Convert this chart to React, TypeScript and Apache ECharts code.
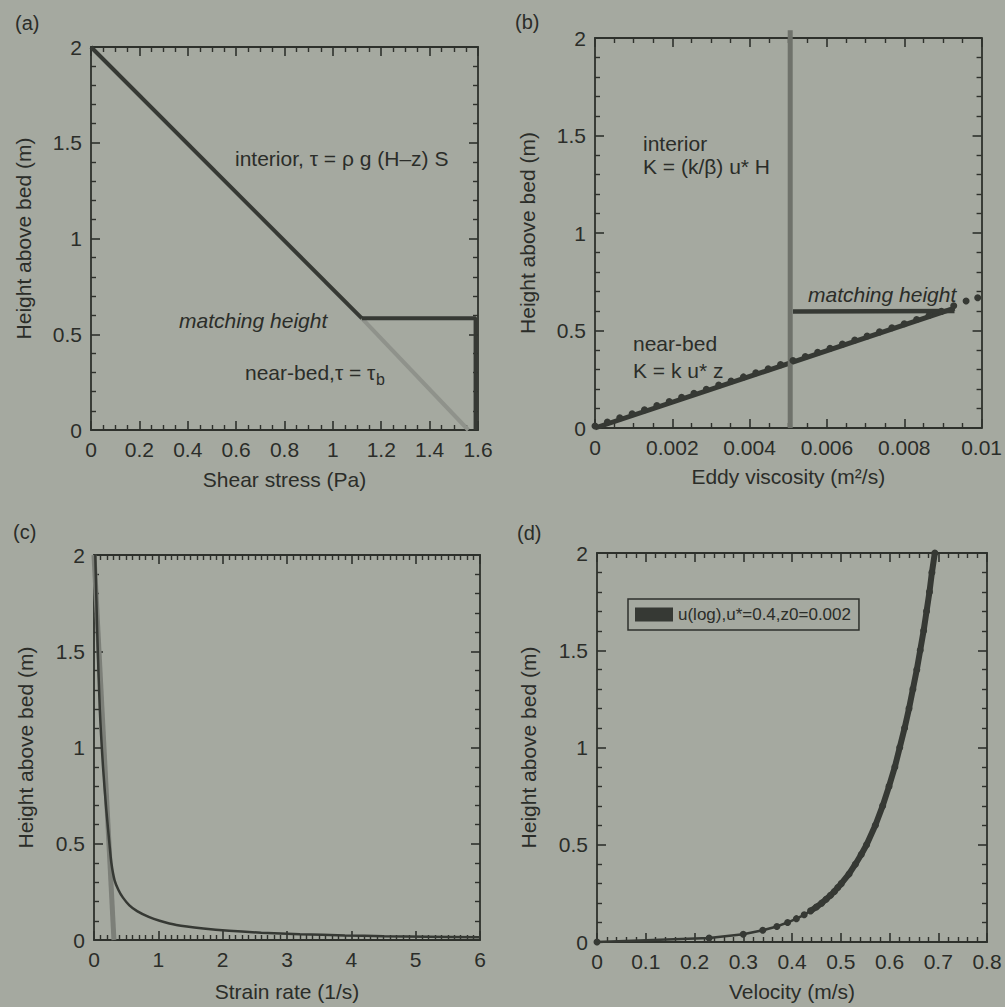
import React, { useEffect, useRef } from 'react';
import * as echarts from 'echarts';

const FONT = '"Liberation Sans", Arial, Helvetica, sans-serif';
const BG = '#a5a9a0';
const DARK = '#363934';
const AXIS = '#2e312c';
const TEXT = '#2b2d29';
const GRAYLINE = '#6f726b';
const LIGHTLINE = '#8f928b';

// (a) Shear stress
const shearUpperX = [0, 1.12];
const shearUpperZ = [2, 0.583];
const shearLowerX = [1.12, 1.56];
const shearLowerZ = [0.583, 0];
const shearNearBedX = [1.12, 1.59, 1.59];
const shearNearBedZ = [0.583, 0.583, 0];

// (b) Eddy viscosity
const eddyInteriorK = [0.00505, 0.00505];
const eddyInteriorZ = [0, 2.04];
const eddyMatchK = [0.00512, 0.0093];
const eddyMatchZ = [0.597, 0.6];
const eddyNearBedK = [0, 0.0093];
const eddyNearBedZ = [0, 0.615];
const eddyDotsK = [0, 0.00032, 0.00064, 0.00096, 0.00128, 0.0016, 0.00192, 0.00224, 0.00256, 0.00288, 0.0032, 0.00352, 0.00384, 0.00416, 0.00448, 0.0048, 0.00512, 0.00544, 0.00576, 0.00608, 0.0064, 0.00672, 0.00704, 0.00736, 0.00768, 0.008, 0.00832, 0.00864, 0.00896, 0.00928, 0.0096, 0.0099];
const eddyDotsZ = [0.01, 0.031, 0.052, 0.073, 0.094, 0.115, 0.136, 0.157, 0.178, 0.199, 0.22, 0.241, 0.262, 0.283, 0.304, 0.325, 0.346, 0.367, 0.388, 0.409, 0.43, 0.451, 0.472, 0.493, 0.514, 0.535, 0.556, 0.577, 0.598, 0.627, 0.651, 0.668];

// (c) Strain rate
const strainInteriorX = [0, 0.31];
const strainInteriorZ = [2, 0];
const strainRate = [0.02, 0.05, 0.09, 0.14, 0.19, 0.24, 0.27, 0.32, 0.38, 0.45, 0.55, 0.67, 0.85, 1.02, 1.28, 1.7, 2.1, 2.6, 3.2, 3.9, 4.5, 5.2, 6.0];
const strainZ = [2.0, 1.6, 1.2, 0.9, 0.68, 0.5, 0.4, 0.31, 0.26, 0.22, 0.18, 0.15, 0.12, 0.1, 0.078, 0.06, 0.048, 0.038, 0.03, 0.024, 0.02, 0.017, 0.014];

// (d) Velocity
const velZ = [0, 0.02, 0.04, 0.06, 0.08, 0.1, 0.12, 0.14, 0.16, 0.18, 0.2, 0.22, 0.24, 0.26, 0.28, 0.3, 0.35, 0.4, 0.45, 0.5, 0.6, 0.7, 0.8, 0.9, 1.0, 1.1, 1.2, 1.3, 1.4, 1.5, 1.6, 1.7, 1.8, 1.9, 2.0];
const velU = [0, 0.23, 0.3, 0.34, 0.369, 0.391, 0.409, 0.425, 0.438, 0.45, 0.461, 0.47, 0.479, 0.487, 0.494, 0.501, 0.517, 0.53, 0.542, 0.553, 0.571, 0.586, 0.599, 0.611, 0.621, 0.631, 0.64, 0.648, 0.656, 0.663, 0.67, 0.676, 0.682, 0.687, 0.693];
const velLegend = 'u(log),u*=0.4,z0=0.002';

const zip = (xs: number[], ys: number[]) => xs.map((x, i) => [x, ys[i]]);

const grids = [
  { left: 91, top: 47, width: 387, height: 383 },
  { left: 595, top: 38, width: 392, height: 390 },
  { left: 94, top: 555, width: 386, height: 385 },
  { left: 597, top: 553, width: 390, height: 389 },
];

function axis(
  gridIndex: number,
  position: string,
  min: number,
  max: number,
  interval: number,
  minorN: number,
  labels: boolean,
  name = '',
  nameGap = 0
) {
  return {
    type: 'value',
    gridIndex,
    position,
    min,
    max,
    interval,
    name,
    nameLocation: 'middle',
    nameGap,
    nameTextStyle: { fontSize: 21, fontFamily: FONT, color: TEXT },
    axisLine: { show: true, onZero: false, lineStyle: { color: AXIS, width: 1.8 } },
    axisTick: { show: true, inside: true, length: 9, lineStyle: { color: AXIS, width: 1.6 } },
    minorTick: { show: true, splitNumber: minorN, length: 5, lineStyle: { color: AXIS, width: 1.4 } },
    splitLine: { show: false },
    minorSplitLine: { show: false },
    axisLabel: { show: labels, color: TEXT, fontSize: 21, fontFamily: FONT, margin: 9 },
  };
}

const yName = 'Height above bed (m)';

const xAxes = [
  axis(0, 'bottom', 0, 1.6, 0.2, 4, true, 'Shear stress (Pa)', 39),
  axis(0, 'top', 0, 1.6, 0.2, 4, false),
  axis(1, 'bottom', 0, 0.01, 0.002, 4, true, 'Eddy viscosity (m²/s)', 38),
  axis(1, 'top', 0, 0.01, 0.002, 4, false),
  axis(2, 'bottom', 0, 6, 1, 10, true, 'Strain rate (1/s)', 41),
  axis(2, 'top', 0, 6, 1, 10, false),
  axis(3, 'bottom', 0, 0.8, 0.1, 5, true, 'Velocity (m/s)', 39),
  axis(3, 'top', 0, 0.8, 0.1, 5, false),
];
const yAxes = [
  axis(0, 'left', 0, 2, 0.5, 5, true, yName, 57),
  axis(0, 'right', 0, 2, 0.5, 5, false),
  axis(1, 'left', 0, 2, 0.5, 5, true, yName, 57),
  axis(1, 'right', 0, 2, 0.5, 5, false),
  axis(2, 'left', 0, 2, 0.5, 5, true, yName, 58),
  axis(2, 'right', 0, 2, 0.5, 5, false),
  axis(3, 'left', 0, 2, 0.5, 5, true, yName, 58),
  axis(3, 'right', 0, 2, 0.5, 5, false),
];

function line(g: number, data: number[][], color: string, width: number, name?: string) {
  return {
    type: 'line',
    name,
    xAxisIndex: g * 2,
    yAxisIndex: g * 2,
    data,
    showSymbol: false,
    clip: false,
    lineStyle: { color, width, cap: 'butt' },
    itemStyle: { color, opacity: 1 },
    z: 3,
  };
}

function label(text: string, x: number, y: number, extra: any = {}) {
  return {
    type: 'text',
    x,
    y,
    style: {
      text,
      fill: TEXT,
      font: `${extra.italic ? 'italic ' : ''}${extra.size || 21}px ${FONT}`,
      textAlign: 'left',
      textVerticalAlign: 'middle',
      align: 'left',
      verticalAlign: 'middle',
    },
    z: 10,
  };
}

const series: any[] = [
  // (a)
  line(0, zip(shearLowerX, shearLowerZ), LIGHTLINE, 4),
  line(0, zip(shearUpperX, shearUpperZ), DARK, 4),
  line(0, zip(shearNearBedX, shearNearBedZ), DARK, 4),
  // (b)
  line(1, zip(eddyNearBedK, eddyNearBedZ), DARK, 5),
  {
    type: 'scatter',
    xAxisIndex: 2,
    yAxisIndex: 2,
    data: zip(eddyDotsK, eddyDotsZ),
    symbolSize: 7,
    clip: false,
    itemStyle: { color: DARK, opacity: 1 },
    z: 3,
  },
  line(1, zip(eddyMatchK, eddyMatchZ), DARK, 4.5),
  line(1, zip(eddyInteriorK, eddyInteriorZ), GRAYLINE, 5),
  // (c)
  line(2, zip(strainInteriorX, strainInteriorZ), '#7c7f78', 5),
  { ...line(2, zip(strainRate, strainZ), DARK, 2.5), smooth: 0.25 },
  // (d)
  {
    ...line(3, zip(velU, velZ), DARK, 2.5, velLegend),
    showSymbol: true,
    symbol: 'circle',
    symbolSize: 7,
  },
  line(3, zip(velU.slice(8), velZ.slice(8)), DARK, 6, velLegend),
];

const graphics: any[] = [
  label('(a)', 15, 23, { size: 20 }),
  label('(b)', 515, 22, { size: 20 }),
  label('(c)', 13, 532, { size: 20 }),
  label('(d)', 517, 533, { size: 20 }),
  label('interior, τ = ρ g (H–z) S', 235, 158),
  label('matching height', 179, 320, { italic: true }),
  label('near-bed,τ = τ', 245, 372),
  label('b', 376, 379, { size: 16 }),
  label('interior', 643, 143),
  label('K = (k/β) u* H', 643, 166),
  label('near-bed', 633, 343),
  label('K = k u* z', 633, 370),
  label('matching height', 808, 294, { italic: true }),
];

const option: any = {
  animation: false,
  backgroundColor: BG,
  textStyle: { fontFamily: FONT },
  grid: grids,
  xAxis: xAxes,
  yAxis: yAxes,
  legend: {
    data: [velLegend],
    left: 628,
    top: 599,
    padding: [7, 8, 7, 7],
    itemWidth: 38,
    itemHeight: 14,
    icon: 'rect',
    selectedMode: false,
    borderColor: AXIS,
    borderWidth: 1.5,
    backgroundColor: BG,
    textStyle: { fontSize: 17, fontFamily: FONT, color: TEXT },
  },
  series,
  graphic: graphics,
};

export default function App() {
  const ref = useRef<HTMLDivElement>(null);
  useEffect(() => {
    document.body.style.margin = '0';
    document.body.style.background = BG;
    const chart = echarts.init(ref.current!, null, { renderer: 'svg' });
    chart.setOption(option);
    return () => chart.dispose();
  }, []);
  return <div ref={ref} style={{ width: 1005, height: 1007 }} />;
}
